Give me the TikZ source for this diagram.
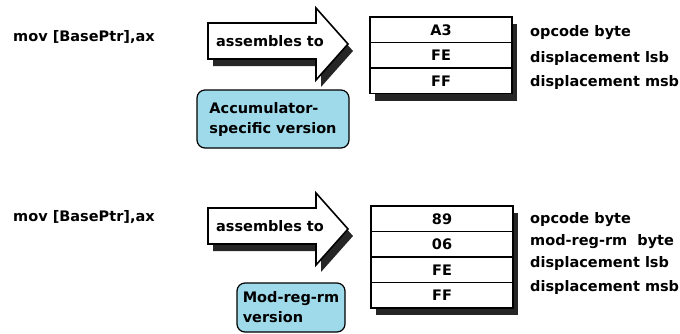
\documentclass[tikz,border=0pt]{standalone}
\usepackage{fontspec}
\setmainfont{DejaVu Sans}
\usetikzlibrary{positioning,backgrounds}

\definecolor{celeste}{RGB}{158,218,234}
\newcommand{\letra}{\fontsize{14.5}{20}\selectfont\bfseries}

\tikzset{
  texto/.style={font=\letra, inner sep=0pt, text height=11pt, text depth=3.5pt},
  celda/.style={draw, line width=1.2pt, fill=white, minimum width=142pt,
                minimum height=25.5pt, inner sep=0pt, outer sep=0pt, font=\letra},
  nota/.style={draw, line width=1.2pt, fill=celeste, rounded corners=8pt,
               inner sep=0pt, align=left, font=\letra},
  flecha/.style={draw, line width=1.6pt, fill=white, line join=miter},
  sombra/.style={fill=black!85},
}

\begin{document}
\begin{tikzpicture}[x=1pt, y=-1pt]
  \useasboundingbox (0,0) rectangle (680,333);

  % Versión del acumulador
  \node[texto, anchor=west] (instr1) at (13,38) {mov [BasePtr],ax};

  \fill[sombra, shift={(5,7)}] (208,23) -- (316,23) -- (316,8) -- (348,44) -- (316,80) -- (316,59) -- (208,59) -- cycle;
  \draw[flecha] (208,23) -- (316,23) -- (316,8) -- (348,44) -- (316,80) -- (316,59) -- (208,59) -- cycle;
  \node[texto] (asm1) at (270,43) {assembles to};

  \node[nota, minimum width=152pt, minimum height=58pt] (ver1) at (273,119) {Accumulator-\\specific version};

  % Bytes
  \node[celda] (a1) at (441,29.75) {A3};
  \node[celda, below=0pt of a1] (a2) {FE};
  \node[celda, below=0pt of a2] (a3) {FF};
  \begin{scope}[on background layer]
    \fill[sombra] ([shift={(5,7)}]a1.north west) rectangle ([shift={(5,7)}]a3.south east);
  \end{scope}

  \node[texto, anchor=west] (la1) at (530,33) {opcode byte};
  \node[texto, anchor=west] (la2) at (530,59) {displacement lsb};
  \node[texto, anchor=west] (la3) at (530,83) {displacement msb};

  % Versión mod-reg-rm
  \node[texto, anchor=west] (instr2) at (13,218) {mov [BasePtr],ax};

  \begin{scope}[shift={(0,185)}]
    \fill[sombra, shift={(5,7)}] (208,23) -- (316,23) -- (316,8) -- (348,44) -- (316,80) -- (316,59) -- (208,59) -- cycle;
    \draw[flecha] (208,23) -- (316,23) -- (316,8) -- (348,44) -- (316,80) -- (316,59) -- (208,59) -- cycle;
    \node[texto] (asm2) at (270,43) {assembles to};
  \end{scope}

  \node[nota, minimum width=108pt, minimum height=49pt] (ver2) at (291,307.5) {Mod-reg-rm\\version};

  % Bytes
  \node[celda] (b1) at (442,218.75) {89};
  \node[celda, below=0pt of b1] (b2) {06};
  \node[celda, below=0pt of b2] (b3) {FE};
  \node[celda, below=0pt of b3] (b4) {FF};
  \begin{scope}[on background layer]
    \fill[sombra] ([shift={(5,7)}]b1.north west) rectangle ([shift={(5,7)}]b4.south east);
  \end{scope}

  \node[texto, anchor=west] (lb1) at (530,220) {opcode byte};
  \node[texto, anchor=west] (lb2) at (530,242) {mod-reg-rm~~byte};
  \node[texto, anchor=west] (lb3) at (530,264) {displacement lsb};
  \node[texto, anchor=west] (lb4) at (530,288) {displacement msb};
\end{tikzpicture}
\end{document}
